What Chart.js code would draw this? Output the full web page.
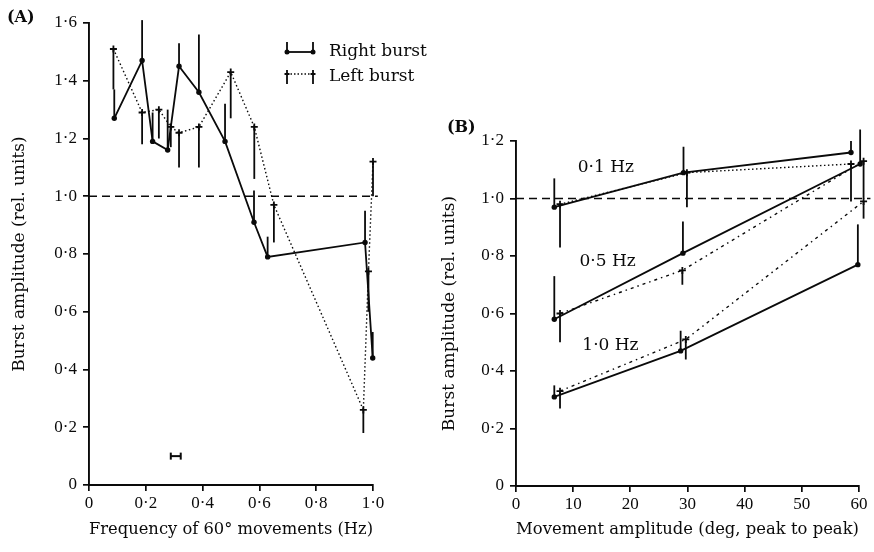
<!DOCTYPE html>
<html>
<head>
<meta charset="utf-8">
<script src="https://cdn.jsdelivr.net/npm/chart.js@4.4.0/dist/chart.umd.min.js"></script>
<style>
  html, body { margin: 0; padding: 0; background: #fff; }
  #wrap { position: relative; width: 874px; height: 552px; overflow: hidden; }
  #boxA { position: absolute; left: 0; top: 0; width: 440px; height: 552px; }
  #boxB { position: absolute; left: 430px; top: 90px; width: 444px; height: 462px; }
</style>
</head>
<body>
<div id="wrap">
  <div id="boxA"><canvas id="chartA"></canvas></div>
  <div id="boxB"><canvas id="chartB"></canvas></div>
</div>
<script>
// ---- Panel A data: burst amplitude vs frequency of 60 deg movements ----
const freqRight = [0.089, 0.187, 0.224, 0.277, 0.317, 0.387, 0.479, 0.581, 0.629, 0.972, 0.999];
const ampRight  = [1.27, 1.47, 1.19, 1.16, 1.45, 1.36, 1.19, 0.91, 0.79, 0.84, 0.44];
const errRight  = [1.37, 1.61, 1.29, 1.30, 1.53, 1.56, 1.32, 1.02, 0.86, 0.95, 0.53];

const freqLeft = [0.086, 0.187, 0.246, 0.288, 0.317, 0.387, 0.499, 0.582, 0.651, 0.966, 0.984, 1.0];
const ampLeft  = [1.51, 1.29, 1.30, 1.24, 1.22, 1.24, 1.43, 1.24, 0.97, 0.26, 0.74, 1.12];
const errLeft  = [1.37, 1.18, 1.20, 1.17, 1.10, 1.10, 1.27, 1.06, 0.84, 0.18, 0.60, 1.00];

const periodBarX = [0.288, 0.323];
const periodBarY = [0.1, 0.1];

const refLineAX = [0, 1.017];
const refLineBX = [0, 62];
const refLineY  = [1.0, 1.0];

const ticksAX = ['0', '0·2', '0·4', '0·6', '0·8', '1·0'];
const ticksAY = ['0', '0·2', '0·4', '0·6', '0·8', '1·0', '1·2', '1·4', '1·6'];

// ---- Panel B data: burst amplitude vs movement amplitude ----
const hz01RightX = [6.7, 29.3, 58.6];
const hz01RightY = [0.97, 1.09, 1.16];
const hz01RightErr = [1.07, 1.18, 1.20];
const hz01LeftX = [7.7, 29.9, 58.6];
const hz01LeftY = [0.98, 1.09, 1.12];
const hz01LeftErr = [0.83, 0.97, 0.99];

const hz05RightX = [6.7, 29.2, 60.2];
const hz05RightY = [0.58, 0.81, 1.12];
const hz05RightErr = [0.73, 0.92, 1.24];
const hz05LeftX = [7.7, 29.1, 60.8];
const hz05LeftY = [0.60, 0.75, 1.13];
const hz05LeftErr = [0.50, 0.70, 1.00];

const hz10RightX = [6.7, 28.8, 59.8];
const hz10RightY = [0.31, 0.47, 0.77];
const hz10RightErr = [0.35, 0.54, 0.91];
const hz10LeftX = [7.7, 29.7, 60.8];
const hz10LeftY = [0.33, 0.51, 0.99];
const hz10LeftErr = [0.27, 0.44, 0.93];

const ticksBX = ['0', '10', '20', '30', '40', '50', '60'];
const ticksBY = ['0', '0·2', '0·4', '0·6', '0·8', '1·0', '1·2'];
const freqLabels = ['0·1 Hz', '0·5 Hz', '1·0 Hz'];

const INK = '#0a0a0a';
const TICK_FONT = { family: 'Liberation Serif', size: 17 };
const TITLE_FONT = { family: 'DejaVu Serif', size: 17 };

function pts(xs, ys) {
  return xs.map((x, i) => ({ x, y: ys[i] }));
}

// series helpers
function rightSeries(xs, ys, errs) {
  return {
    data: pts(xs, ys), errTo: errs,
    borderColor: INK, borderWidth: 1.8,
    pointStyle: 'circle', pointRadius: 2.7,
    pointBackgroundColor: INK, pointBorderColor: INK, pointBorderWidth: 0,
    showLine: true, clip: false, order: 1
  };
}

function leftSeries(xs, ys, errs, dash) {
  return {
    data: pts(xs, ys), errTo: errs,
    borderColor: INK, borderWidth: 1.4, borderDash: dash,
    pointStyle: 'cross', pointRadius: 3.5, pointBorderWidth: 1.8,
    pointBorderColor: INK,
    showLine: true, clip: false, order: 2
  };
}

function refLine(xs) {
  return {
    data: pts(xs, refLineY),
    borderColor: INK, borderWidth: 1.7, borderDash: [8, 5],
    pointRadius: 0, showLine: true, clip: false, order: 3
  };
}

// vertical error bars, from point value to errTo value
const errorBars = {
  id: 'errorBars',
  afterDatasetsDraw(chart) {
    const { ctx, scales: { x, y } } = chart;
    chart.data.datasets.forEach(ds => {
      if (!ds.errTo) return;
      ctx.save();
      ctx.strokeStyle = INK;
      ctx.lineWidth = 1.8;
      ds.data.forEach((p, i) => {
        const px = x.getPixelForValue(p.x);
        ctx.beginPath();
        ctx.moveTo(px, y.getPixelForValue(p.y));
        ctx.lineTo(px, y.getPixelForValue(ds.errTo[i]));
        ctx.stroke();
      });
      ctx.restore();
    });
  }
};

function axes(tx, ty, xMax, xStep, yMax, yW, xH) {
  const common = {
    type: 'linear', min: 0,
    border: { display: true, color: INK, width: 1.9 },
    grid: { display: true, drawOnChartArea: false, drawTicks: true, tickLength: 6, color: INK, lineWidth: 1.7 }
  };
  return {
    x: {
      ...common, max: xMax,
      afterFit: s => { s.height = xH; },
      ticks: { stepSize: xStep, autoSkip: false, maxRotation: 0, color: INK, font: TICK_FONT, padding: 2,
               callback: (v, i) => tx[i] },
      title: { display: true, color: INK, font: TITLE_FONT, padding: { top: 0, bottom: 12 } }
    },
    y: {
      ...common, max: yMax,
      afterFit: s => { s.width = yW; },
      ticks: { stepSize: 0.2, autoSkip: false, color: INK, font: TICK_FONT, padding: 6,
               callback: (v, i) => ty[i] },
      title: { display: true, text: 'Burst amplitude (rel. units)', color: INK, font: TITLE_FONT, padding: { top: 9, bottom: 0 } }
    }
  };
}

// ---- Panel A ----
const legendA = {
  id: 'legendA',
  afterDraw(chart) {
    const { ctx } = chart;
    ctx.save();
    ctx.strokeStyle = INK;
    ctx.fillStyle = INK;
    // right burst sample
    const x0 = 287, x1 = 313, yr = 52, yl = 77;
    ctx.lineWidth = 1.8;
    ctx.beginPath(); ctx.moveTo(x0, yr); ctx.lineTo(x1, yr); ctx.stroke();
    ctx.beginPath(); ctx.moveTo(x0, yr); ctx.lineTo(x0, yr - 10); ctx.moveTo(x1, yr); ctx.lineTo(x1, yr - 10); ctx.stroke();
    [x0, x1].forEach(px => { ctx.beginPath(); ctx.arc(px, yr, 2.5, 0, Math.PI * 2); ctx.fill(); });
    // left burst sample
    ctx.lineWidth = 1.4;
    ctx.setLineDash([1.5, 2]);
    ctx.beginPath(); ctx.moveTo(x0, yl - 3); ctx.lineTo(x1, yl - 3); ctx.stroke();
    ctx.setLineDash([]);
    ctx.lineWidth = 1.8;
    [x0, x1].forEach(px => {
      ctx.beginPath(); ctx.moveTo(px, yl - 7); ctx.lineTo(px, yl + 7);
      ctx.moveTo(px - 2.5, yl - 3); ctx.lineTo(px + 2.5, yl - 3); ctx.stroke();
    });
    ctx.font = '17px "DejaVu Serif"';
    ctx.textBaseline = 'middle';
    ctx.fillText('Right burst', 329, yr);
    ctx.fillText('Left burst', 329, yl);
    ctx.font = 'bold 16px "DejaVu Serif"';
    ctx.fillText('(A)', 7, 18);
    ctx.restore();
  }
};

const scalesA = axes(ticksAX, ticksAY, 1.0, 0.2, 1.6, 89, 67);
scalesA.x.title.text = 'Frequency of 60° movements (Hz)';

new Chart(document.getElementById('chartA'), {
  type: 'line',
  data: {
    datasets: [
      refLine(refLineAX),
      leftSeries(freqLeft, ampLeft, errLeft, [1.5, 2.5]),
      rightSeries(freqRight, ampRight, errRight),
      {
        data: pts(periodBarX, periodBarY),
        borderColor: INK, borderWidth: 2,
        pointStyle: 'line', rotation: 90, pointRadius: 3.5, pointBorderWidth: 2,
        pointBorderColor: INK, showLine: true, clip: false
      }
    ]
  },
  options: {
    responsive: true, maintainAspectRatio: false, animation: false, events: [],
    layout: { padding: { left: 0, top: 23, right: 67, bottom: 0 } },
    plugins: { legend: { display: false }, tooltip: { enabled: false } },
    scales: scalesA
  },
  plugins: [errorBars, legendA]
});

// ---- Panel B ----
const labelsB = {
  id: 'labelsB',
  afterDraw(chart) {
    const { ctx, scales: { x, y } } = chart;
    ctx.save();
    ctx.fillStyle = INK;
    ctx.font = '17px "DejaVu Serif"';
    ctx.textBaseline = 'middle';
    ctx.fillText(freqLabels[0], x.getPixelForValue(10.8), y.getPixelForValue(1.106));
    ctx.fillText(freqLabels[1], x.getPixelForValue(11.1), y.getPixelForValue(0.78));
    ctx.fillText(freqLabels[2], x.getPixelForValue(11.6), y.getPixelForValue(0.49));
    ctx.font = 'bold 16px "DejaVu Serif"';
    ctx.fillText('(B)', 17, 38);
    ctx.restore();
  }
};

const scalesB = axes(ticksBX, ticksBY, 60, 10, 1.2, 86, 66);
scalesB.x.title.text = 'Movement amplitude (deg, peak to peak)';

new Chart(document.getElementById('chartB'), {
  type: 'line',
  data: {
    datasets: [
      refLine(refLineBX),
      leftSeries(hz01LeftX, hz01LeftY, hz01LeftErr, [1.5, 2.5]),
      leftSeries(hz05LeftX, hz05LeftY, hz05LeftErr, [3, 4, 1.5, 4]),
      leftSeries(hz10LeftX, hz10LeftY, hz10LeftErr, [3, 4, 1.5, 4]),
      rightSeries(hz01RightX, hz01RightY, hz01RightErr),
      rightSeries(hz05RightX, hz05RightY, hz05RightErr),
      rightSeries(hz10RightX, hz10RightY, hz10RightErr)
    ]
  },
  options: {
    responsive: true, maintainAspectRatio: false, animation: false, events: [],
    layout: { padding: { left: 0, top: 51, right: 15, bottom: 0 } },
    plugins: { legend: { display: false }, tooltip: { enabled: false } },
    scales: scalesB
  },
  plugins: [errorBars, labelsB]
});
</script>
</body>
</html>
